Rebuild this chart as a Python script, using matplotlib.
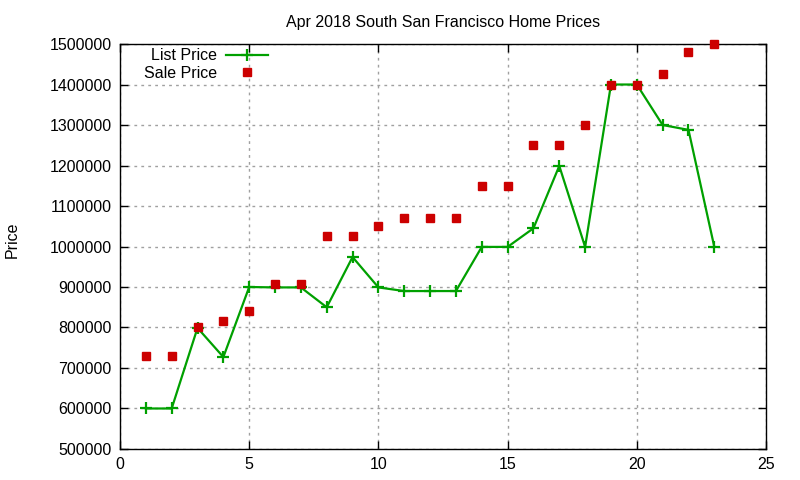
import matplotlib.pyplot as plt

plt.rcParams['font.family'] = ['Liberation Sans', 'DejaVu Sans']

# data
x = list(range(1, 24))
list_price = [600000, 600000, 799000, 727000, 900000, 899000, 899000, 850000, 974000,
              899000, 890000, 890000, 890000, 999000, 999000, 1045000, 1199000, 999000,
              1400000, 1400000, 1300000, 1288000, 999000]
sale_price = [730000, 730000, 800000, 815000, 840000, 908000, 908000, 1025000, 1025000,
              1050000, 1070000, 1070000, 1070000, 1150000, 1150000, 1250000, 1250000, 1300000,
              1400000, 1400000, 1425000, 1480000, 1500000]

fig = plt.figure(figsize=(8, 4.8), dpi=100)
ax = fig.add_axes([0.15, 0.0646, 0.8075, 0.8437])

ax.plot(x, list_price, color='#00a000', lw=1.6, marker='+', ms=8, mew=1.6,
        label='List Price', clip_on=False)
ax.plot(x, sale_price, ls='none', marker='s', ms=6.3, color='#cc0000', mec='#cc0000',
        label='Sale Price', clip_on=False, zorder=3)

ax.set_xlim(0, 25)
ax.set_ylim(500000, 1500000)
ax.set_xticks(range(0, 26, 5))
ax.set_yticks(range(500000, 1500001, 100000))
ax.set_yticklabels([str(v) for v in range(500000, 1500001, 100000)])
ax.tick_params(direction='in', top=True, right=True, labelsize=11.5, length=6, width=1, pad=6)
ax.grid(True, color='#a0a0a0', ls=(0, (2, 3)), lw=1)
for s in ax.spines.values():
    s.set_linewidth(1)

ax.set_title('Apr 2018 South San Francisco Home Prices', fontsize=11.5, pad=12)
fig.text(12 / 800, 0.5, 'Price', rotation=90, ha='center', va='center', fontsize=11.5)

ax.legend(loc='upper left', bbox_to_anchor=(0.02, 1.017), frameon=False, markerfirst=False,
          fontsize=11.5, handlelength=2.6, handletextpad=0.55, labelspacing=0.15,
          borderaxespad=0.3)

fig.savefig('out.png', dpi=100)
